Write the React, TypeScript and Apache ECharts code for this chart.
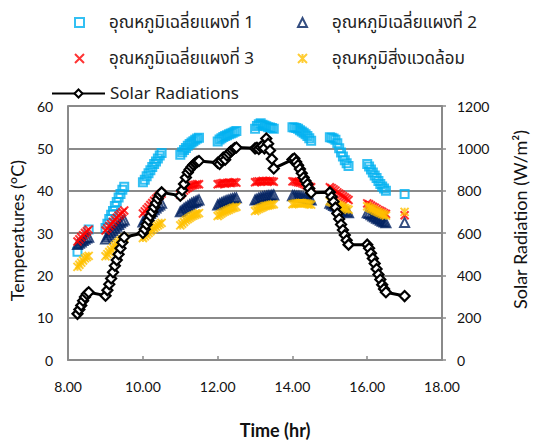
import React, { useEffect, useRef } from "react";
import * as echarts from "echarts";

// time (hr) of each sample
const times = [
  8.25, 8.3, 8.35, 8.4, 8.45, 8.5, 8.55,
  9.0, 9.05, 9.1, 9.15, 9.2, 9.25, 9.3, 9.35, 9.4, 9.45, 9.5,
  10.0, 10.05, 10.1, 10.15, 10.2, 10.25, 10.3, 10.35, 10.4, 10.45, 10.5,
  11.0, 11.05, 11.1, 11.15, 11.2, 11.25, 11.3, 11.35, 11.4, 11.45, 11.5,
  12.0, 12.05, 12.1, 12.15, 12.2, 12.25, 12.3, 12.35, 12.4, 12.45, 12.5,
  13.0, 13.05, 13.1, 13.15, 13.2, 13.25, 13.3, 13.35, 13.4, 13.45, 13.5,
  14.0, 14.05, 14.1, 14.15, 14.2, 14.25, 14.3, 14.35, 14.4, 14.45, 14.5,
  15.0, 15.05, 15.1, 15.15, 15.2, 15.25, 15.3, 15.35, 15.4, 15.45, 15.5,
  16.0, 16.05, 16.1, 16.15, 16.2, 16.25, 16.3, 16.35, 16.4, 16.45, 16.5,
  17.0,
];

const panel1 = [
  25.6, null, null, null, null, null, 30.8,
  31.2, 32.2, 33.3, 34.3, 35.2, 36.4, 37.3, 38.4, 39.2, 40.2, 40.9,
  42.0, 42.6, 43.4, 44.1, 44.8, 45.6, 46.3, 46.9, 47.6, 48.3, 48.9,
  48.5, 49.1, 49.6, 50.1, 50.6, 51.0, 51.4, 51.7, 52.0, 52.3, 52.5,
  51.6, 52.1, 52.4, 52.7, 52.9, 53.1, 53.3, 53.5, 53.7, 53.9, 54.1,
  54.6, 55.3, 55.7, 55.9, 55.6, 55.4, 55.2, 55.0, 54.9, 54.8, 54.6,
  55.0, 54.9, 54.8, 54.6, 54.3, 54.0, 53.7, 53.3, 52.9, 52.4, 51.8,
  52.6, 52.5, 52.3, 52.0, 51.2, 50.0, 49.0, 48.1, 47.2, 46.5, 45.8,
  46.3, 45.7, 45.0, 44.3, 43.6, 43.0, 42.3, 41.6, 41.0, 40.5, 40.0,
  39.2,
];

const panel2 = [
  27.3, 27.6, 27.9, 28.2, 28.5, 28.8, 29.0,
  28.6, 29.1, 29.6, 30.1, 30.6, 31.1, 31.6, 32.0, 32.4, 32.8, 33.1,
  32.6, 33.1, 33.6, 34.1, 34.6, 35.0, 35.5, 35.9, 36.3, 36.6, 37.0,
  35.0, 35.4, 35.8, 36.1, 36.4, 36.7, 37.0, 37.2, 37.4, 37.6, 37.8,
  36.6, 36.9, 37.1, 37.3, 37.5, 37.7, 37.8, 38.0, 38.1, 38.2, 38.3,
  37.8, 38.0, 38.2, 38.4, 38.5, 38.6, 38.7, 38.8, 38.8, 38.9, 39.0,
  38.8, 38.8, 38.7, 38.7, 38.6, 38.5, 38.4, 38.3, 38.1, 38.0, 37.8,
  37.0, 36.8, 36.5, 36.3, 36.0, 35.8, 35.6, 35.4, 35.2, 35.0, 34.8,
  34.8, 34.6, 34.3, 34.0, 33.8, 33.5, 33.3, 33.0, 32.8, 32.6, 32.4,
  32.5,
];

const panel3 = [
  28.0, 28.5, 29.0, 29.5, 30.0, 30.4, 30.8,
  30.6, 31.1, 31.6, 32.1, 32.6, 33.1, 33.6, 34.1, 34.5, 34.9, 35.3,
  34.6, 35.1, 35.6, 36.1, 36.6, 37.1, 37.6, 38.1, 38.5, 38.9, 39.3,
  39.0, 39.5, 40.0, 40.4, 40.7, 41.0, 41.2, 41.3, 41.4, 41.5, 41.5,
  41.5, 41.6, 41.7, 41.8, 41.7, 41.8, 41.9, 41.8, 41.9, 42.0, 41.9,
  42.0, 42.1, 42.2, 42.1, 42.3, 42.2, 42.3, 42.2, 42.3, 42.2, 42.1,
  42.2, 42.2, 42.1, 42.0, 41.9, 41.8, 41.6, 41.4, 41.2, 41.0, 40.8,
  40.8, 40.6, 40.3, 40.0, 39.6, 39.3, 39.0, 38.7, 38.4, 38.1, 37.8,
  37.0, 36.8, 36.5, 36.2, 36.0, 35.7, 35.4, 35.2, 35.0, 34.7, 34.5,
  34.2,
];

const ambient = [
  22.0, 22.5, 23.0, 23.5, 24.0, 24.3, 24.6,
  24.5, 25.0, 25.5, 26.0, 26.5, 27.0, 27.4, 27.8, 28.2, 28.5, 28.8,
  28.8, 29.2, 29.6, 30.0, 30.4, 30.8, 31.2, 31.5, 31.8, 32.1, 32.4,
  31.8, 32.2, 32.6, 33.0, 33.3, 33.6, 33.9, 34.1, 34.3, 34.5, 34.7,
  34.0, 34.3, 34.6, 34.9, 35.1, 35.3, 35.5, 35.7, 35.9, 36.0, 36.2,
  35.2, 35.5, 35.7, 35.9, 36.1, 36.3, 36.4, 36.5, 36.6, 36.7, 36.8,
  36.8, 36.9, 37.0, 37.0, 37.1, 37.1, 37.0, 37.0, 36.9, 36.8, 36.7,
  37.5, 37.3, 37.1, 36.9, 36.7, 36.5, 36.3, 36.1, 35.9, 35.7, 35.5,
  36.3, 36.0, 35.8, 35.6, 35.3, 35.1, 34.9, 34.7, 34.5, 34.3, 34.1,
  35.0,
];

const solar = [
  218, 238, 258, 280, 298, 312, 320,
  304, 330, 358, 385, 415, 445, 472, 500, 528, 555, 580,
  600, 618, 640, 660, 680, 700, 722, 742, 762, 780, 792,
  776, 802, 832, 862, 886, 900, 912, 922, 930, 936, 940,
  932, 926, 942, 956, 946, 966, 976, 986, 992, 1000, 1004,
  1000, 1003, 997, 1006, 1012, 1000, 1046, 1022, 990, 950, 905,
  947, 952, 936, 920, 902, 882, 862, 846, 830, 810, 790,
  792, 770, 748, 720, 692, 666, 640, 614, 590, 566, 545,
  545, 528, 504, 480, 456, 430, 404, 380, 356, 336, 320,
  302,
];

const names = [
  "อุณหภูมิเฉลี่ยแผงที่ 1",
  "อุณหภูมิเฉลี่ยแผงที่ 2",
  "อุณหภูมิเฉลี่ยแผงที่ 3",
  "อุณหภูมิสิ่งแวดล้อม",
  "Solar Radiations",
];

const FONT = "Lato, 'Noto Sans Thai', Tahoma, 'Noto Sans', sans-serif";
const THAI = "Tahoma, 'Noto Sans Thai', 'Noto Sans', 'DejaVu Sans', sans-serif";
const GRAY = "#8a8a8a";

function pairs(vals: (number | null)[]) {
  const out: number[][] = [];
  times.forEach((t, i) => {
    const v = vals[i];
    if (v !== null && v !== undefined) out.push([t, v]);
  });
  return out;
}

function legendAt(name: string, left: number, top: number, w: number, h: number, padLeft: number) {
  return {
    data: [name],
    left,
    top,
    padding: 0,
    itemWidth: w,
    itemHeight: h,
    itemGap: 0,
    selectedMode: false,
    textStyle: {
      fontSize: 17,
      color: "#222",
      fontFamily: THAI,
      padding: [0, 0, 0, padLeft],
    },
  };
}

export default function App() {
  const ref = useRef<HTMLDivElement>(null);
  useEffect(() => {
    document.body.style.margin = "0";
    if (!ref.current) return;
    const chart = echarts.init(ref.current, undefined, { renderer: "svg" });
    chart.setOption({
      animation: false,
      backgroundColor: "#fff",
      legend: [
        legendAt(names[0], 74, 14, 9, 9, 20),
        legendAt(names[1], 297, 14, 9, 9, 20),
        legendAt(names[2], 74, 50, 9, 9, 20),
        legendAt(names[3], 297, 50, 9, 9, 20),
        legendAt(names[4], 51, 85, 53, 10, 0),
      ],
      grid: { left: 65, right: 95, top: 106, bottom: 80 },
      xAxis: {
        type: "value",
        min: 8,
        max: 18,
        interval: 2,
        axisLine: { lineStyle: { color: GRAY, width: 2 } },
        axisTick: { show: true, inside: true, length: 4, lineStyle: { color: GRAY, width: 1.5 } },
        axisLabel: {
          formatter: (v: number) => v.toFixed(2),
          color: "#111",
          fontSize: 14,
          margin: 19,
          fontFamily: FONT,
        },
        splitLine: { show: false },
        name: "Time (hr)",
        nameLocation: "middle",
        nameGap: 61,
        nameTextStyle: {
          fontSize: 18,
          fontWeight: "bold",
          color: "#111",
          fontFamily: FONT,
          padding: [0, 0, 0, 40],
        },
      },
      yAxis: [
        {
          type: "value",
          min: 0,
          max: 60,
          interval: 10,
          axisLine: { show: true, lineStyle: { color: GRAY, width: 2 } },
          axisTick: { show: false },
          axisLabel: { color: "#111", fontSize: 14, margin: 15, fontFamily: FONT },
          splitLine: { show: true, lineStyle: { color: GRAY, width: 2 } },
          name: "Temperatures (°C)",
          nameLocation: "middle",
          nameRotate: 90,
          nameGap: 24,
          nameTextStyle: { fontSize: 18, color: "#111", fontFamily: FONT, padding: [0, 0, 0, 5] },
        },
        {
          type: "value",
          min: 0,
          max: 1200,
          interval: 200,
          position: "right",
          axisLine: { show: true, lineStyle: { color: GRAY, width: 2 } },
          axisTick: { show: true, length: 4, lineStyle: { color: GRAY, width: 1.5 } },
          axisLabel: {
            color: "#111",
            fontSize: 14,
            margin: 15,
            fontFamily: FONT,
            formatter: (v: number) => String(v),
          },
          splitLine: { show: false },
          name: "Solar Radiation (W/m²)",
          nameLocation: "middle",
          nameRotate: 90,
          nameGap: 69,
          nameTextStyle: { fontSize: 18, color: "#111", fontFamily: FONT, padding: [0, 0, 0, 27] },
        },
      ],
      series: [
        {
          name: names[0],
          type: "scatter",
          data: pairs(panel1),
          symbol: "rect",
          symbolSize: 8,
          itemStyle: { color: "rgba(255,255,255,0)", borderColor: "#00B0F0", borderWidth: 2 },
        },
        {
          name: names[1],
          type: "scatter",
          data: pairs(panel2),
          symbol: "triangle",
          symbolSize: 9,
          itemStyle: { color: "rgba(255,255,255,0)", borderColor: "#002060", borderWidth: 2 },
        },
        {
          name: names[2],
          type: "scatter",
          data: pairs(panel3),
          symbol: "path://M0,0L10,10M10,0L0,10",
          symbolSize: 8,
          itemStyle: { color: "rgba(255,255,255,0)", borderColor: "#FF0000", borderWidth: 2 },
        },
        {
          name: names[3],
          type: "scatter",
          data: pairs(ambient),
          symbol: "path://M0,0L10,10M10,0L0,10M5,0L5,10",
          symbolSize: 8,
          itemStyle: { color: "rgba(255,255,255,0)", borderColor: "#FFC000", borderWidth: 2 },
        },
        {
          name: names[4],
          type: "line",
          yAxisIndex: 1,
          data: pairs(solar),
          symbol: "diamond",
          symbolSize: 10,
          showAllSymbol: true,
          lineStyle: { color: "#000", width: 3 },
          itemStyle: { color: "#fff", borderColor: "#000", borderWidth: 2.2 },
        },
      ],
    });
    return () => chart.dispose();
  }, []);
  return <div ref={ref} style={{ width: 537, height: 444 }} />;
}
